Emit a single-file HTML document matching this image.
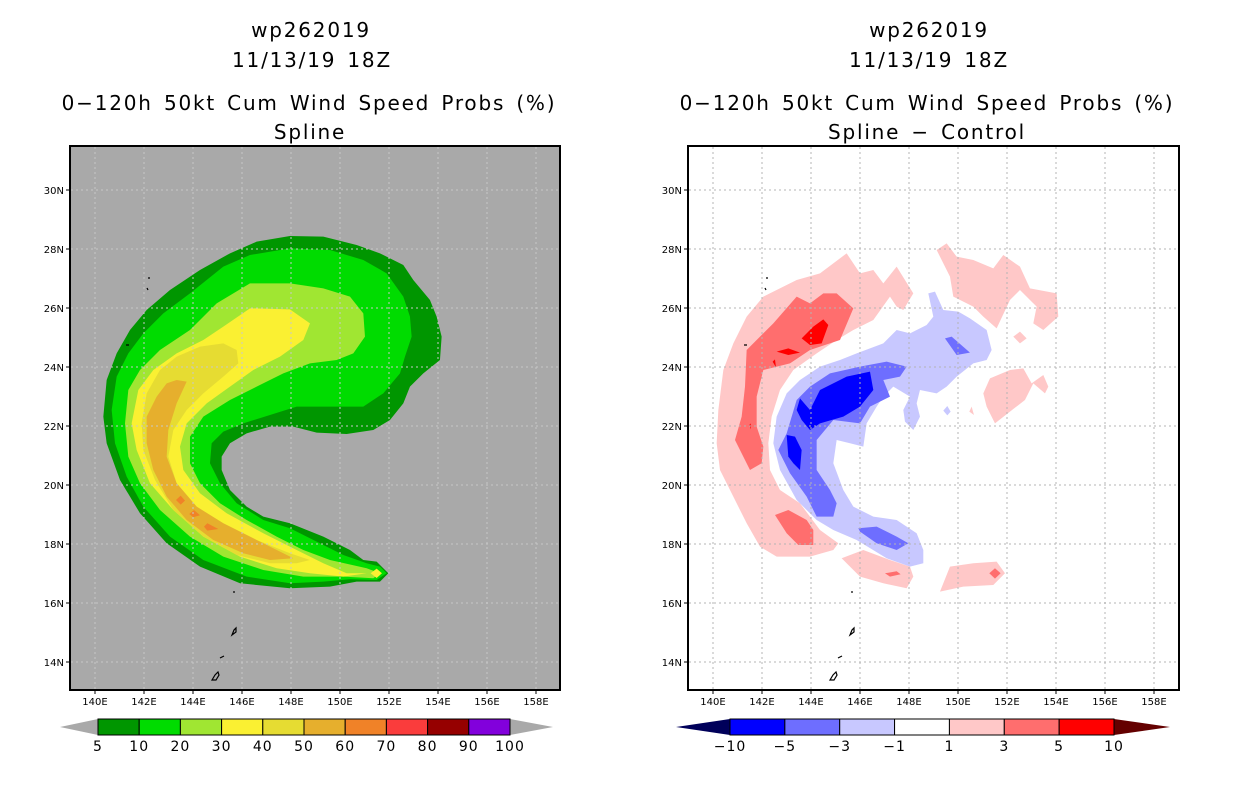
<!DOCTYPE html>
<html><head><meta charset="utf-8"><style>
body{margin:0;background:#fff;width:1236px;height:800px;overflow:hidden}
svg{display:block}
text{font-family:"DejaVu Sans","Liberation Sans",sans-serif}
.tt text{letter-spacing:1.8px;word-spacing:3px}
</style></head><body>
<svg id="root" width="1236" height="800" viewBox="0 0 1236 800">
<g class="tt" font-size="20" text-anchor="middle" fill="#000">
<text x="311" y="37">wp262019</text>
<text x="312" y="67">11/13/19 18Z</text>
<text x="309" y="110">0−120h 50kt Cum Wind Speed Probs (%)</text>
<text x="310" y="139">Spline</text>
</g>
<g class="tt" font-size="20" text-anchor="middle" fill="#000">
<text x="929" y="37">wp262019</text>
<text x="929" y="67">11/13/19 18Z</text>
<text x="927" y="110">0−120h 50kt Cum Wind Speed Probs (%)</text>
<text x="927" y="139">Spline − Control</text>
</g>

<g>
<rect x="70" y="146" width="490" height="544" fill="#a9a9a9"/>
<g transform="translate(90,230) scale(0.3333)">
<polygon fill="#009600" points="600,18 700,20 800,45 870,70 940,105 970,150 1020,210 1040,260 1055,320 1050,390 1000,430 960,470 940,520 900,570 850,600 770,612 680,608 610,590 540,590 470,610 420,640 395,680 395,720 420,780 470,830 520,860 600,880 700,920 780,960 820,990 860,995 895,1030 870,1055 800,1055 720,1070 600,1075 450,1060 330,1010 230,940 150,850 90,750 50,640 40,560 50,450 80,370 120,300 170,240 240,180 330,120 420,70 500,35"/>
<polygon fill="#00dc00" points="600,55 720,60 820,90 890,130 940,200 960,260 965,320 945,380 930,430 880,490 820,530 720,530 620,530 540,555 460,580 400,605 365,640 360,700 390,760 440,820 520,870 600,895 680,935 760,975 830,1000 870,1010 890,1030 860,1050 780,1048 700,1055 600,1060 470,1040 340,990 240,920 160,830 110,740 75,640 65,540 80,440 115,370 160,310 220,250 300,190 400,110 480,75"/>
<polygon fill="#a0e632" points="480,160 600,160 700,175 780,200 820,250 825,320 790,370 740,390 660,400 580,430 500,470 420,510 340,560 300,620 300,700 330,760 390,820 470,870 560,920 640,960 720,990 830,1015 870,1030 850,1045 760,1040 640,1040 520,1020 400,980 300,920 210,840 150,760 115,680 105,580 115,480 150,420 210,360 300,300 380,220"/>
<polygon fill="#faf032" points="480,235 600,238 660,280 640,330 570,380 490,420 420,470 350,520 290,580 270,650 280,720 330,790 410,850 520,910 620,960 700,1000 770,1030 830,1030 760,1040 660,1030 560,1015 450,980 340,920 250,840 180,760 140,660 125,580 145,480 190,420 260,370 340,330 400,290"/>
<polygon fill="#e6dc32" points="330,350 400,340 440,360 445,400 400,440 340,490 290,540 250,600 235,680 260,760 320,830 400,880 500,930 600,970 660,990 620,1000 540,1000 440,975 340,920 250,840 195,750 160,660 155,580 170,490 210,420 260,380"/>
<polygon fill="#e6af2d" points="260,450 290,455 260,520 235,600 230,680 260,760 320,830 400,880 500,930 580,970 610,985 540,990 460,970 370,930 290,870 230,800 190,720 170,640 170,560 200,500 230,460"/>
<g fill="#f08228">
<polygon points="258,810 272,797 285,812 272,824"/><polygon points="298,852 312,840 330,856 310,862"/><polygon points="342,890 352,880 385,897 352,902"/><polygon points="450,943 470,940 450,947"/></g>
<polygon fill="#faf032" points="842,1030 860,1016 876,1030 860,1044"/>
</g>
<g id="lgrid" stroke="#c8c8c8" stroke-width="1" stroke-dasharray="2,3"></g>
<g stroke="#000" fill="none" stroke-width="1.2">
<path d="M212,680 l3,-5 l3,-3 l1,3 l-3,5 z"/><path d="M232,635 l2,-5 l2,-2 l0,4 z"/><path d="M220,658 l4,-2"/><path d="M233,592 l2,0"/><path d="M148,278 l2,0 M147,288 l1,2 M126,345 l3,0"/>
</g>
<rect x="70" y="146" width="490" height="544" fill="none" stroke="#000" stroke-width="2"/>
<g id="laxes" font-size="10" fill="#000"></g>
</g>

<g>
<rect x="688" y="146" width="491" height="544" fill="#fff"/>
<g transform="translate(710,230) scale(0.3333)">
<polygon fill="#ffc8c8" points="160,200 260,150 330,130 410,70 450,130 490,120 520,160 560,110 610,190 580,240 560,230 540,200 490,270 430,300 380,330 320,370 250,420 210,480 185,560 175,640 180,720 210,780 270,820 330,900 385,940 370,960 300,980 200,980 150,950 110,880 70,800 30,720 20,640 25,540 40,420 70,340 110,260"/>
<polygon fill="#ff6e6e" points="110,360 190,280 260,200 300,220 340,190 380,190 430,235 390,330 300,360 240,400 160,420 140,500 140,590 160,650 155,700 120,720 90,660 75,630 95,560 105,470"/>
<g fill="#ff0000">
<polygon points="275,325 310,290 340,268 355,285 335,340 300,345"/><polygon points="200,365 235,355 270,368 235,375"/><polygon points="188,395 195,388 198,412"/><polygon points="118,585 122,580 123,598"/></g>
<polygon fill="#ff6e6e" points="195,855 235,840 290,870 310,900 310,945 265,945 230,910"/>
<polygon fill="#ffc8c8" points="395,985 460,960 540,990 600,1010 610,1040 590,1075 520,1060 450,1040"/>
<polygon fill="#ff6e6e" points="525,1030 560,1024 572,1033 540,1040"/>
<polygon fill="#ffc8c8" points="690,1085 720,1010 790,1000 860,995 885,1030 850,1065 760,1070"/>
<polygon fill="#ff6e6e" points="838,1030 855,1015 872,1030 855,1046"/>
<polygon fill="#ffc8c8" points="680,60 710,40 740,80 790,90 850,115 880,75 930,110 960,175 1040,190 1045,260 1000,300 970,280 980,230 930,180 900,210 860,295 820,260 790,230 730,200 720,140"/>
<polygon fill="#ffc8c8" points="910,320 930,305 950,325 930,340"/>
<polygon fill="#ffc8c8" points="820,490 840,445 900,420 940,415 965,460 1000,435 1015,470 1005,490 970,460 945,510 900,545 855,580 830,530"/>
<polygon fill="#ffc8c8" points="778,545 785,530 792,555"/>
<polygon fill="#c8c8ff" points="655,190 675,185 700,240 745,245 780,265 830,300 845,360 830,390 790,400 740,440 710,470 680,490 630,480 620,520 630,560 610,600 585,575 580,540 600,500 550,470 520,500 500,530 470,580 460,650 420,640 380,630 370,700 400,780 430,830 490,860 560,870 620,910 640,960 640,1000 600,1010 530,985 440,930 370,900 320,870 260,810 210,720 190,640 200,560 230,490 270,450 330,410 390,390 440,370 520,340 560,300 600,310 650,285 670,260"/>
<polygon fill="#c8c8ff" points="700,542 712,528 722,545 712,556"/>
<polygon fill="#6e6eff" points="230,610 260,510 300,470 360,430 450,410 530,395 590,410 570,440 520,450 540,500 480,530 450,580 370,570 320,630 320,720 360,780 380,820 370,860 320,860 290,800 240,730 205,660"/>
<polygon fill="#6e6eff" points="445,895 500,890 560,920 595,940 560,960 500,940 450,905"/>
<polygon fill="#6e6eff" points="705,325 725,320 780,368 740,375"/>
<polygon fill="#0000ff" points="270,505 300,540 330,480 410,440 480,425 490,480 450,530 400,560 330,580 300,600 275,570 260,540"/>
<polygon fill="#0000ff" points="230,615 255,620 275,660 270,720 250,700 235,680"/>
</g>
<g id="rgrid" stroke="#b4b4b4" stroke-width="1" stroke-dasharray="2,3"></g>
<g stroke="#000" fill="none" stroke-width="1.2">
<path d="M830,680 l3,-5 l3,-3 l1,3 l-3,5 z"/><path d="M850,635 l2,-5 l2,-2 l0,4 z"/><path d="M838,658 l4,-2"/><path d="M851,592 l2,0"/><path d="M766,278 l2,0 M765,288 l1,2 M744,345 l3,0"/>
</g>
<rect x="688" y="146" width="491" height="544" fill="none" stroke="#000" stroke-width="2"/>
<g id="raxes" font-size="10" fill="#000"></g>
</g>

<g id="lbar"></g>
<g id="rbar"></g>
</svg>
<script>
const lonTicks = [140,142,144,146,148,150,152,154,156,158];
const latTicks = [14,16,18,20,22,24,26,28,30];
const probLevels = ["5","10","20","30","40","50","60","70","80","90","100"];
const probColors = ["#009600","#00dc00","#a0e632","#faf032","#e6dc32","#e6af2d","#f08228","#fa3c3c","#960000","#8200dc"];
const diffLevels = ["−10","−5","−3","−1","1","3","5","10"];
const diffColors = ["#0000ff","#6e6eff","#c8c8ff","#ffffff","#ffc8c8","#ff6e6e","#ff0000"];
const NS = "http://www.w3.org/2000/svg";
function mk(tag, attrs, parent){const e=document.createElementNS(NS,tag);for(const k in attrs)e.setAttribute(k,attrs[k]);parent.appendChild(e);return e;}
function lonX(lon, off){return 242 + off + (lon-146)*24.5;}
function latY(lat){return 662 - (lat-14)*29.5;}
function axes(gridId, axId, off, x0, x1){
  const g=document.getElementById(gridId), a=document.getElementById(axId);
  lonTicks.forEach(l=>{const x=lonX(l,off);
    const ln=mk('line',{x1:x,x2:x,y1:147,y2:689},g);
    
    
    mk('line',{x1:x,x2:x,y1:690,y2:694,stroke:'#000'},a);
    const t=mk('text',{x:x,y:705,'text-anchor':'middle'},a);t.textContent=l+'E';
    
    });
  latTicks.forEach(l=>{const y=latY(l);
    const ln=mk('line',{x1:x0+1,x2:x1-1,y1:y,y2:y},g);
    
    
    mk('line',{x1:x0-4,x2:x0,y1:y,y2:y,stroke:'#000'},a);
    const t=mk('text',{x:x0-6,y:y+4,'text-anchor':'end'},a);t.textContent=l+'N';
    
    });
}
axes('lgrid','laxes',0,70,560);
axes('rgrid','raxes',618,688,1179);
function bar(id, x0, x1, tipL, tipR, colors, levels, lc, rc, labelOffset){
  const g=document.getElementById(id); const w=(x1-x0)/colors.length; const y0=719,y1=735,ym=727;
  const l=mk('polygon',{points:`${tipL},${ym} ${x0},${y0} ${x0},${y1}`,fill:lc},g);
  
  
  const r=mk('polygon',{points:`${tipR},${ym} ${x1},${y0} ${x1},${y1}`,fill:rc},g);
  
  
  colors.forEach((c,i)=>{const b=mk('rect',{x:x0+i*w,y:y0,width:w,height:y1-y0,fill:c,stroke:'#000','stroke-width':1},g);
    
    });
  levels.forEach((s,i)=>{const x=x0+i*(x1-x0)/(levels.length-1)+labelOffset;
    const t=mk('text',{x:x,y:751,'text-anchor':'middle','font-size':14,'letter-spacing':1},g);t.textContent=s;
    
    });
}
bar('lbar',98,510,60,553,probColors,probLevels,'#a9a9a9','#a9a9a9',0);
bar('rbar',730,1114,676,1170,diffColors,diffLevels,'#00005a','#640000',0);
</script>
</body></html>
